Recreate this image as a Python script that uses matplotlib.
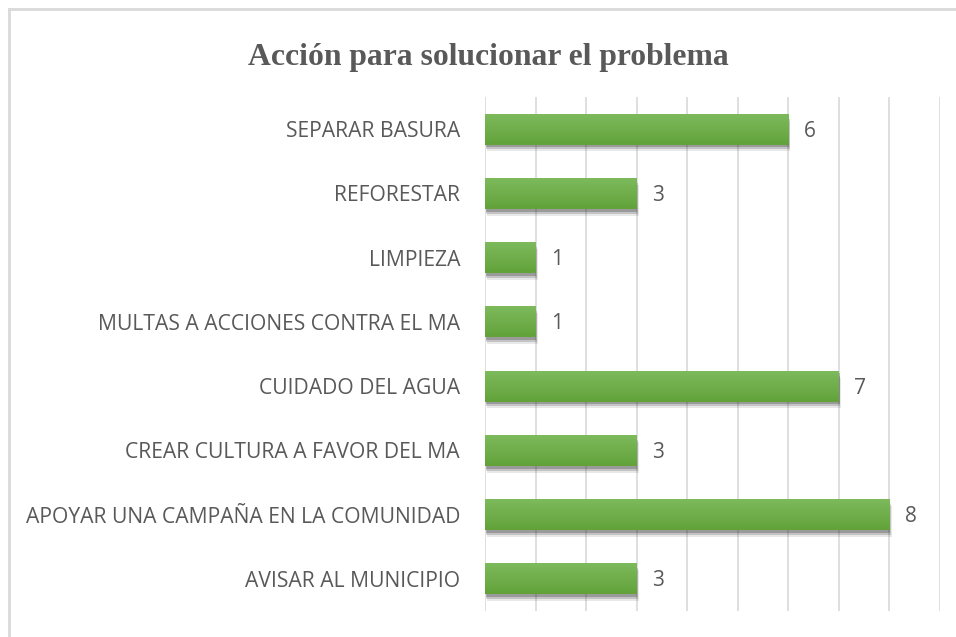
import numpy as np
import matplotlib.pyplot as plt
import matplotlib.patheffects as pe
from matplotlib.colors import LinearSegmentedColormap
from matplotlib.lines import Line2D

categories = ['SEPARAR BASURA', 'REFORESTAR', 'LIMPIEZA',
              'MULTAS A ACCIONES CONTRA EL MA', 'CUIDADO DEL AGUA',
              'CREAR CULTURA A FAVOR DEL MA',
              'APOYAR UNA CAMPAÑA EN LA COMUNIDAD', 'AVISAR AL MUNICIPIO']
values = [6, 3, 1, 1, 7, 3, 8, 3]
x_ticks = list(range(0, 10))

text_gray = '#595959'
grid_gray = '#d9d9d9'
bar_grad = LinearSegmentedColormap.from_list('g', ['#62a239', '#7dba5c'])

fig = plt.figure(figsize=(9.56, 6.37), dpi=100)
ax = fig.add_axes([485 / 956, 1 - 611 / 637, 455 / 956, 514 / 637])

y = np.arange(len(categories))
h = 0.48
bars = ax.barh(y, values, height=h, color='#70ad47', zorder=2)
for b in bars:
    # soft drop shadow under each bar
    b.set_path_effects([pe.SimplePatchShadow(offset=(1.5, -5), alpha=0.1, shadow_rgbFace='#202020'),
                        pe.SimplePatchShadow(offset=(1, -3.5), alpha=0.18, shadow_rgbFace='#202020'),
                        pe.SimplePatchShadow(offset=(0.5, -2), alpha=0.25, shadow_rgbFace='#202020'),
                        pe.Normal()])
    x0, y0 = b.get_x(), b.get_y()
    w, bh = b.get_width(), b.get_height()
    grad = np.linspace(0, 1, 50).reshape(-1, 1)
    ax.imshow(grad, cmap=bar_grad, aspect='auto', origin='upper',
              extent=(x0, x0 + w, y0, y0 + bh), zorder=3)

for yi, v in zip(y, values):
    ax.text(v + 0.3, yi + 0.03, str(v), va='center', ha='left', fontsize=15,
            color=text_gray, family='Open Sans')

ax.set_xlim(0, 9)
ax.set_ylim(len(categories) - 0.5, -0.5)
ax.set_xticks(x_ticks)
ax.set_xticklabels([])
ax.set_yticks(y)
ax.set_yticklabels(categories, fontsize=15.2, color=text_gray, family='Open Sans')
ax.tick_params(length=0, pad=18)
ax.grid(axis='x', color=grid_gray, linewidth=1.2, zorder=0)
ax.set_axisbelow(True)
for s in ax.spines.values():
    s.set_visible(False)

fig.text(488 / 956, 1 - 57 / 637, 'Acción para solucionar el problema',
         ha='center', va='center', fontsize=22.8, fontweight='bold',
         color=text_gray, family='Liberation Serif')

# chart frame (only top and left edges are visible in the reference)
fig.add_artist(Line2D([8.5 / 956, 8.5 / 956], [0, 1 - 8.5 / 637],
                      color=grid_gray, linewidth=2, transform=fig.transFigure))
fig.add_artist(Line2D([8.5 / 956, 1], [1 - 8.5 / 637, 1 - 8.5 / 637],
                      color=grid_gray, linewidth=2, transform=fig.transFigure))

fig.savefig('out.png', dpi=100)
